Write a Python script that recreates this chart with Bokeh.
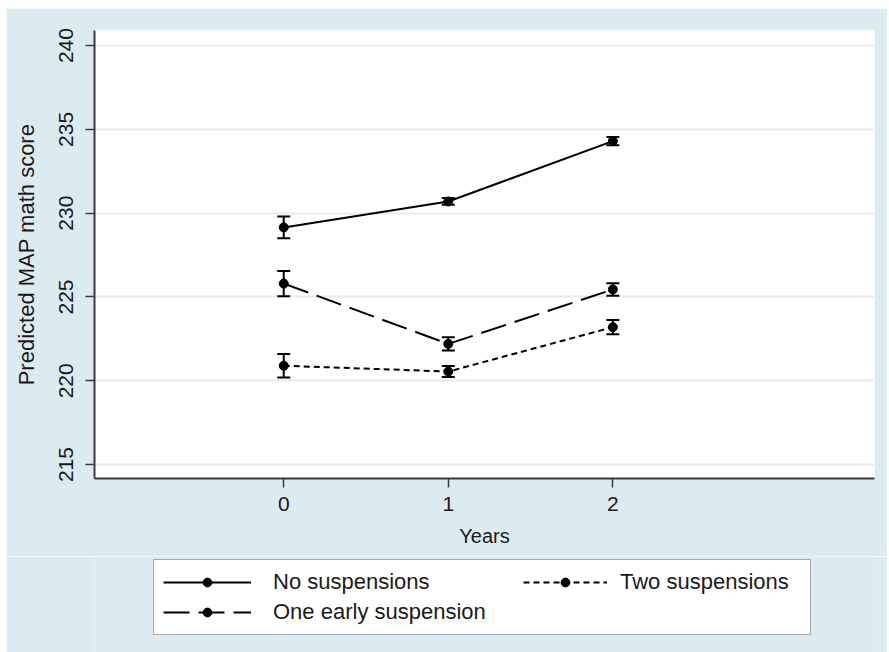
from bokeh.plotting import figure
from bokeh.layouts import column
from bokeh.models import (ColumnDataSource, Whisker, TeeHead, FixedTicker, Legend, LegendItem)
from bokeh.embed import file_html
from bokeh.resources import INLINE

years = [0, 1, 2]
no_susp = [229.15, 230.7, 234.3]
no_susp_lo = [228.5, 230.5, 234.05]
no_susp_hi = [229.8, 230.9, 234.55]
one_early = [225.8, 222.2, 225.45]
one_early_lo = [225.05, 221.8, 225.08]
one_early_hi = [226.55, 222.6, 225.82]
two_susp = [220.9, 220.55, 223.2]
two_susp_lo = [220.2, 220.22, 222.77]
two_susp_hi = [221.6, 220.88, 223.63]

series_names = ["No suspensions", "One early suspension", "Two suspensions"]
y_ticks = [215, 220, 225, 230, 235, 240]
x_ticks = [0, 1, 2]

BG = "#dcebef"
GRID = "#e2eef2"
FONT = "Liberation Sans"
TXT = "#1a1a1a"

p = figure(width=881, height=548, x_range=(-1.15, 3.59), y_range=(214.17, 240.9),
           output_backend="svg", toolbar_location=None, margin=(8, 0, 0, 6),
           min_border_left=88, min_border_top=22, min_border_right=13, min_border_bottom=78)
p.border_fill_color = BG
p.background_fill_color = "white"
p.outline_line_color = None

p.xgrid.visible = False
p.ygrid.grid_line_color = GRID
p.ygrid.grid_line_width = 2

for ax in (p.xaxis[0], p.yaxis[0]):
    ax.axis_line_color = "#3a3a3a"
    ax.axis_line_width = 2
    ax.major_tick_line_color = "#3a3a3a"
    ax.major_tick_line_width = 1.5
    ax.major_tick_in = 0
    ax.major_tick_out = 9
    ax.minor_tick_line_color = None
    ax.major_label_text_font = FONT
    ax.major_label_text_font_size = "21px"
    ax.major_label_text_color = TXT
    ax.axis_label_text_font = FONT
    ax.axis_label_text_font_size = "20px"
    ax.axis_label_text_font_style = "normal"
    ax.axis_label_text_color = TXT

p.xaxis.ticker = FixedTicker(ticks=x_ticks)
p.yaxis.ticker = FixedTicker(ticks=y_ticks)
p.xaxis.axis_label = "Years"
p.yaxis.axis_label = "Predicted MAP math score"
p.yaxis.axis_label_text_font_size = "22px"
p.yaxis.major_label_orientation = "vertical"
p.xaxis.major_label_standoff = 9
p.yaxis.major_label_standoff = 12
p.xaxis.axis_label_standoff = 11
p.yaxis.axis_label_standoff = 18

# legend strip below the chart
lg = figure(width=881, height=96, x_range=(0, 881), y_range=(0, 96),
            output_backend="svg", toolbar_location=None, margin=(0, 0, 0, 6),
            x_axis_type=None, y_axis_type=None,
            min_border_left=0, min_border_right=0, min_border_top=0, min_border_bottom=0)
lg.border_fill_color = BG
lg.background_fill_color = BG
lg.background_fill_alpha = 1
lg.outline_line_color = None
lg.xgrid.visible = False
lg.ygrid.visible = False

dashes = ["solid", "26 9", "6 4"]
data = [(no_susp, no_susp_lo, no_susp_hi), (one_early, one_early_lo, one_early_hi),
        (two_susp, two_susp_lo, two_susp_hi)]
items = []
for (vals, lo, hi), dash, name in zip(data, dashes, series_names):
    src = ColumnDataSource(dict(x=years, y=vals, lo=lo, hi=hi))
    w = Whisker(base="x", upper="hi", lower="lo", source=src, line_color="black", line_width=2,
                upper_head=TeeHead(size=13, line_width=2, line_color="black"),
                lower_head=TeeHead(size=13, line_width=2, line_color="black"))
    p.add_layout(w)
    p.line("x", "y", source=src, line_color="black", line_width=2, line_dash=dash)
    p.scatter("x", "y", source=src, size=9, color="black")
    # same series drawn in the legend strip (values lie outside its range, so only the key shows)
    ln2 = lg.line("x", "y", source=src, line_color="black", line_width=2, line_dash=dash)
    sc2 = lg.scatter("x", "y", source=src, size=7, color="black")
    items.append(LegendItem(label=name, renderers=[ln2, sc2]))

common = dict(label_text_font=FONT, label_text_font_size="22px", label_text_color=TXT,
              glyph_height=22, spacing=4, margin=0)

legend_a = Legend(items=items[:2], location=(59, 17),
                  border_line_color="#555555", border_line_width=1.5,
                  background_fill_color="white", background_fill_alpha=1,
                  glyph_width=88, label_standoff=22, label_width=528, padding=9, **common)
legend_b = Legend(items=items[2:], location=(429, 57),
                  border_line_color=None, background_fill_alpha=0,
                  glyph_width=84, label_standoff=13, padding=0, **common)
lg.add_layout(legend_a)
lg.add_layout(legend_b)

layout = column(p, lg, spacing=0)
open("out.html", "w").write(file_html(layout, INLINE))
